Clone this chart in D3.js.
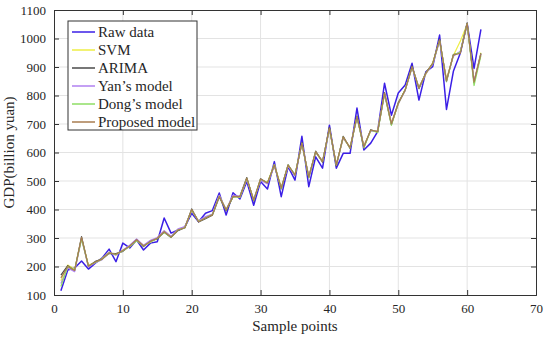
<!DOCTYPE html>
<html>
<head>
<meta charset="utf-8">
<script src="https://cdn.jsdelivr.net/npm/d3@7"></script>
<style>
  body { margin: 0; background: #fff; }
  text { font-family: "Liberation Serif", "Times New Roman", serif; fill: #262626; }
</style>
</head>
<body>
<script>
// GDP forecasts, 62 sample points
const samples = d3.range(1, 63);

const rawData = [115, 188, 195, 219, 191, 212, 230, 261, 217, 282, 265, 293, 258, 282, 287, 370, 317, 328, 338, 387,
  357, 387, 396, 458, 381, 459, 437, 498, 415, 498, 472, 568, 445, 550, 503, 657, 480, 585, 545, 696,
  545, 597, 597, 756, 609, 633, 673, 843, 731, 809, 837, 913, 784, 883, 901, 1012, 751, 885, 948, 1053,
  895, 1032];
const svm = [150, 205, 190, 300, 205, 215, 228, 250, 240, 258, 270, 292, 275, 285, 300, 325, 305, 330, 338, 398,
  360, 372, 383, 448, 400, 448, 443, 508, 435, 505, 495, 558, 478, 553, 522, 630, 518, 600, 570, 683,
  560, 650, 620, 722, 625, 675, 678, 805, 705, 770, 822, 898, 830, 875, 915, 992, 858, 940, 990, 1050,
  850, 950];
const arima = [170, 203, 186, 305, 200, 218, 226, 246, 245, 253, 273, 295, 270, 290, 297, 320, 302, 326, 336, 402,
  356, 368, 380, 444, 396, 444, 447, 512, 430, 508, 492, 555, 472, 557, 519, 635, 512, 605, 566, 688,
  553, 657, 614, 728, 618, 680, 671, 810, 698, 775, 818, 903, 824, 880, 912, 997, 849, 944, 950, 1055,
  845, 948];
const yan = [140, 195, 182, 298, 198, 213, 224, 250, 240, 257, 275, 297, 275, 292, 302, 326, 306, 332, 340, 396,
  360, 375, 384, 450, 400, 450, 446, 505, 435, 503, 490, 552, 476, 552, 520, 630, 516, 600, 570, 680,
  558, 650, 618, 722, 622, 676, 675, 805, 702, 770, 818, 898, 828, 876, 910, 990, 855, 938, 955, 1050,
  850, 945];
const dong = [130, 200, 188, 296, 202, 214, 226, 248, 242, 255, 270, 290, 272, 286, 298, 320, 303, 328, 336, 398,
  358, 370, 382, 446, 398, 445, 444, 509, 432, 506, 494, 556, 474, 556, 522, 632, 512, 602, 568, 684,
  555, 654, 615, 724, 616, 678, 670, 806, 695, 772, 820, 900, 826, 878, 912, 994, 850, 942, 952, 1052,
  835, 940];
const proposed = [160, 200, 186, 302, 201, 216, 226, 248, 243, 256, 272, 294, 272, 288, 299, 322, 303, 328, 336, 400,
  357, 370, 381, 446, 398, 446, 445, 510, 433, 507, 493, 556, 475, 556, 521, 633, 514, 603, 568, 686,
  556, 655, 616, 726, 620, 679, 673, 809, 700, 773, 819, 901, 826, 878, 913, 995, 852, 942, 948, 1053,
  847, 945];

const seriesNames = ["Raw data", "SVM", "ARIMA", "Yan\u2019s model", "Dong\u2019s model", "Proposed model"];
const seriesValues = [rawData, svm, arima, yan, dong, proposed];
const seriesColors = ["#3b1fe6", "#eeee44", "#4a4a4a", "#b080f0", "#8ede64", "#a87c50"];

const xTicks = [0, 10, 20, 30, 40, 50, 60, 70];
const yTicks = [100, 200, 300, 400, 500, 600, 700, 800, 900, 1000, 1100];

const serif = "'Liberation Serif', 'Times New Roman', serif";

let width = 550,
  height = 338;
let margin = { top: 10, right: 14, bottom: 43, left: 54 };

let svg = d3
  .select("body")
  .append("svg")
  .attr("width", width)
  .attr("height", height);

let x = d3.scaleLinear().domain([0, 70]).range([margin.left, width - margin.right]);
let y = d3.scaleLinear().domain([100, 1100]).range([height - margin.bottom, margin.top]);

// grid lines
svg
  .append("g")
  .selectAll("line.gx")
  .data(xTicks.slice(1, -1))
  .enter()
  .append("line")
  .attr("x1", d => x(d))
  .attr("x2", d => x(d))
  .attr("y1", y(100))
  .attr("y2", y(1100))
  .attr("stroke", "#e3e3e3");

svg
  .append("g")
  .selectAll("line.gy")
  .data(yTicks.slice(1, -1))
  .enter()
  .append("line")
  .attr("x1", x(0))
  .attr("x2", x(70))
  .attr("y1", d => y(d))
  .attr("y2", d => y(d))
  .attr("stroke", "#e3e3e3");

// the series, drawn in legend order
let line = d3
  .line()
  .x((d, i) => x(samples[i]))
  .y(d => y(d));

svg
  .append("g")
  .selectAll("path")
  .data(seriesValues)
  .enter()
  .append("path")
  .attr("d", d => line(d))
  .attr("fill", "none")
  .attr("stroke", (d, i) => seriesColors[i])
  .attr("stroke-width", (d, i) => (i === 0 ? 1.5 : 1.2))
  .attr("stroke-linejoin", "round");

// axes, ticks inward on all four sides (matlab box)
let axisColor = "#333";
let styleAxis = g => {
  g.attr("font-family", serif).attr("font-size", 13);
  g.select(".domain").attr("stroke", axisColor);
  g.selectAll("line").attr("stroke", axisColor);
  g.selectAll("text").attr("fill", "#262626");
};

svg
  .append("g")
  .attr("transform", `translate(0,${y(100)})`)
  .call(d3.axisBottom(x).tickValues(xTicks).tickSize(-5).tickPadding(9).tickFormat(d3.format("d")))
  .call(styleAxis);

svg
  .append("g")
  .attr("transform", `translate(${x(0)},0)`)
  .call(d3.axisLeft(y).tickValues(yTicks).tickSize(-5).tickPadding(8).tickFormat(d3.format("d")))
  .call(styleAxis);

svg
  .append("g")
  .attr("transform", `translate(0,${y(1100)})`)
  .call(d3.axisTop(x).tickValues(xTicks).tickSize(-5).tickFormat(""))
  .call(styleAxis);

svg
  .append("g")
  .attr("transform", `translate(${x(70)},0)`)
  .call(d3.axisRight(y).tickValues(yTicks).tickSize(-5).tickFormat(""))
  .call(styleAxis);

// axis titles
svg
  .append("text")
  .attr("x", (x(0) + x(70)) / 2)
  .attr("y", 331)
  .attr("text-anchor", "middle")
  .attr("font-size", 15)
  .text("Sample points");

svg
  .append("text")
  .attr("transform", `translate(14,${(y(100) + y(1100)) / 2}) rotate(-90)`)
  .attr("text-anchor", "middle")
  .attr("font-size", 15)
  .text("GDP(billion yuan)");

// legend
let legend = svg.append("g").attr("transform", "translate(68,21)");
legend
  .append("rect")
  .attr("width", 129)
  .attr("height", 109)
  .attr("fill", "#fff")
  .attr("stroke", "#333");

let rows = legend
  .selectAll("g.row")
  .data(seriesNames)
  .enter()
  .append("g")
  .attr("transform", (d, i) => `translate(0,${11 + i * 18})`);

rows
  .append("line")
  .attr("x1", 4)
  .attr("x2", 27)
  .attr("stroke", (d, i) => seriesColors[i])
  .attr("stroke-width", 1.5);

rows
  .append("text")
  .attr("x", 30)
  .attr("dy", "0.33em")
  .attr("font-size", 15)
  .text(d => d);
</script>
</body>
</html>
